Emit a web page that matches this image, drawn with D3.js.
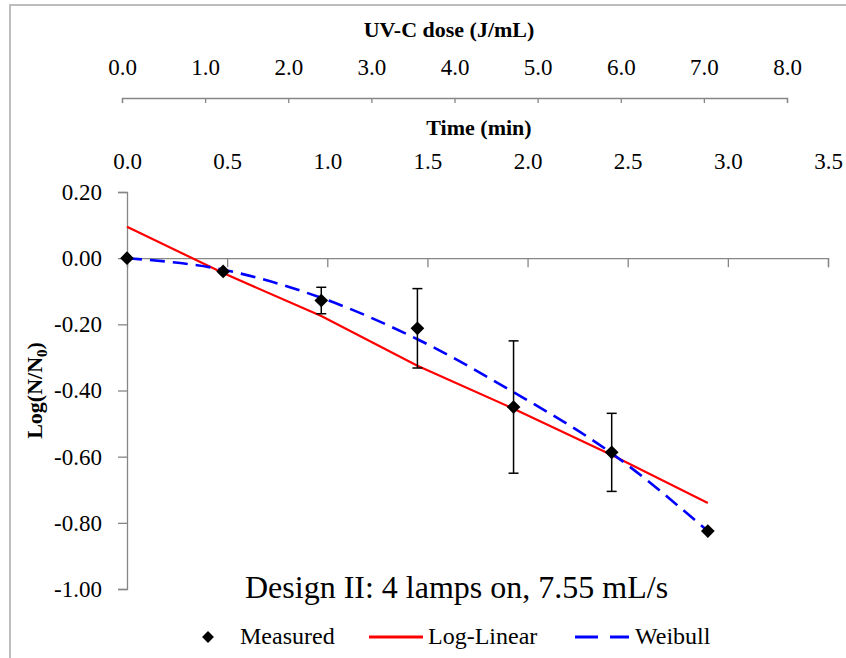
<!DOCTYPE html>
<html>
<head>
<meta charset="utf-8">
<script src="https://cdn.jsdelivr.net/npm/d3@7"></script>
<style>
  html, body { margin: 0; padding: 0; background: #fff; }
  svg { display: block; }
  svg text { font-family: "Liberation Serif", "Times New Roman", serif; fill: #000; }
</style>
</head>
<body>
<svg id="chart" width="846" height="658"></svg>
<script>
// Sampling times (min) and measured log reductions
const times = [0, 0.48, 0.97, 1.45, 1.93, 2.42, 2.90];
const measured = [0, -0.04, -0.128, -0.212, -0.45, -0.587, -0.825];
const measuredErr = [0, 0, 0.04, 0.12, 0.2, 0.118, 0];
// Model predictions at the same times
const logLinear = [0.095, -0.045, -0.175, -0.325, -0.455, -0.595, -0.74];
const weibull = [0, -0.035, -0.12, -0.245, -0.405, -0.59, -0.825];

// Axis ticks
const doseTicks = [0, 1, 2, 3, 4, 5, 6, 7, 8];
const timeTicks = [0, 0.5, 1, 1.5, 2, 2.5, 3, 3.5];
const yTicks = [0.2, 0, -0.2, -0.4, -0.6, -0.8, -1.0];

const serif = "'Liberation Serif', 'Times New Roman', serif";
const svg = d3.select("#chart").attr("font-family", serif);
const axisGray = "#868686";

// Outer frame
svg.append("rect")
  .attr("x", 10).attr("y", 5).attr("width", 900).attr("height", 700)
  .attr("fill", "none").attr("stroke", "#bdbdbd").attr("stroke-width", 2);

const x = d3.scaleLinear().domain([0, 3.5]).range([127, 828]);
const y = d3.scaleLinear().domain([-1, 0.2]).range([589, 192]);
const dose = d3.scaleLinear().domain([0, 8]).range([122, 787]);

function styleAxis(g) {
  g.attr("font-family", serif).attr("font-size", 23);
  g.selectAll("path, line").attr("stroke", axisGray).attr("stroke-width", 1.3);
  g.selectAll("text").attr("fill", "#000");
}

// Secondary (dose) axis at the top
svg.append("g")
  .attr("transform", "translate(0,98)")
  .call(d3.axisTop(dose).tickValues(doseTicks).tickSize(-5).tickSizeOuter(-5)
        .tickPadding(23).tickFormat(d => d.toFixed(1)))
  .call(styleAxis);

svg.append("text")
  .attr("x", 449).attr("y", 37).attr("text-anchor", "middle")
  .attr("font-size", 22).attr("font-weight", "bold")
  .text("UV-C dose (J/mL)");

// Time axis: line crosses at zero, labels placed high
svg.append("g")
  .attr("transform", `translate(0,${y(0)})`)
  .call(d3.axisTop(x).tickValues(timeTicks).tickSize(-9).tickSizeOuter(-9)
        .tickPadding(y(0) - 169).tickFormat(d => d.toFixed(1)))
  .call(styleAxis);

svg.append("text")
  .attr("x", 479).attr("y", 135).attr("text-anchor", "middle")
  .attr("font-size", 22).attr("font-weight", "bold")
  .text("Time (min)");

// Vertical axis
svg.append("g")
  .attr("transform", `translate(${x(0)},0)`)
  .call(d3.axisLeft(y).tickValues(yTicks).tickSize(9).tickSizeOuter(9)
        .tickPadding(16).tickFormat(d => d.toFixed(2)))
  .call(styleAxis);

const yLab = svg.append("text")
  .attr("transform", `translate(42,${(y(0.2) + y(-1)) / 2}) rotate(-90)`)
  .attr("text-anchor", "middle")
  .attr("font-size", 22).attr("font-weight", "bold");
yLab.append("tspan").text("Log(N/N");
yLab.append("tspan").attr("dy", 5).attr("font-size", 15).text("0");
yLab.append("tspan").attr("dy", -5).text(")");

// Model curves
const pts = (vals) => times.map((t, i) => [t, vals[i]]);

svg.append("path")
  .datum(pts(logLinear))
  .attr("fill", "none").attr("stroke", "#ff0000").attr("stroke-width", 2.2)
  .attr("d", d3.line().x(d => x(d[0])).y(d => y(d[1])));

svg.append("path")
  .datum(pts(weibull))
  .attr("fill", "none").attr("stroke", "#0000ff").attr("stroke-width", 2.6)
  .attr("stroke-dasharray", "15,8")
  .attr("d", d3.line().curve(d3.curveMonotoneX).x(d => x(d[0])).y(d => y(d[1])));

// Error bars
const errG = svg.append("g").attr("stroke", "#000").attr("stroke-width", 1.5);
times.forEach((t, i) => {
  const e = measuredErr[i];
  if (!e) return;
  const cx = x(t), yt = y(measured[i] + e), yb = y(measured[i] - e);
  errG.append("line").attr("x1", cx).attr("x2", cx).attr("y1", yt).attr("y2", yb);
  errG.append("line").attr("x1", cx - 5).attr("x2", cx + 5).attr("y1", yt).attr("y2", yt);
  errG.append("line").attr("x1", cx - 5).attr("x2", cx + 5).attr("y1", yb).attr("y2", yb);
});

// Measured markers (diamonds)
const diamond = d3.symbol().type(d3.symbolDiamond2).size(120);
svg.append("g").selectAll("path")
  .data(pts(measured))
  .join("path")
  .attr("transform", d => `translate(${x(d[0])},${y(d[1])})`)
  .attr("d", diamond)
  .attr("fill", "#000");

// Condition label
svg.append("text")
  .attr("x", 245).attr("y", 598)
  .attr("font-size", 32)
  .text("Design II: 4 lamps on, 7.55 mL/s");

// Legend
const leg = svg.append("g").attr("font-size", 24);
const ly = 637;
leg.append("path").attr("transform", `translate(208,${ly})`)
  .attr("d", d3.symbol().type(d3.symbolDiamond2).size(90)).attr("fill", "#000");
leg.append("text").attr("x", 240).attr("y", ly + 7).text("Measured");
leg.append("line").attr("x1", 369).attr("x2", 423).attr("y1", ly).attr("y2", ly)
  .attr("stroke", "#ff0000").attr("stroke-width", 3);
leg.append("text").attr("x", 428).attr("y", ly + 7).text("Log-Linear");
leg.append("line").attr("x1", 575).attr("x2", 629).attr("y1", ly).attr("y2", ly)
  .attr("stroke", "#0000ff").attr("stroke-width", 3).attr("stroke-dasharray", "23,12");
leg.append("text").attr("x", 635).attr("y", ly + 7).text("Weibull");
</script>
</body>
</html>
